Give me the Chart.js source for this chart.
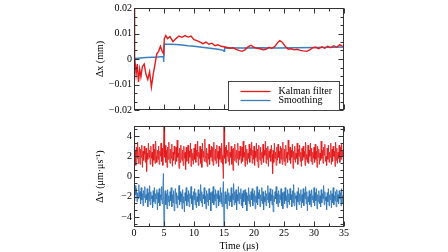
<!DOCTYPE html>
<html>
<head>
<meta charset="utf-8">
<script src="https://cdn.jsdelivr.net/npm/chart.js@4.4.1/dist/chart.umd.min.js"></script>
<style>
  html, body { margin: 0; padding: 0; background: #fff; }
  #wrap { position: relative; width: 448px; height: 252px; }
  #topChart { position: absolute; left: 0; top: 0; }
  #bottomChart { position: absolute; left: 0; top: 118px; }
</style>
</head>
<body>
<div id="wrap">
  <canvas id="topChart" width="448" height="118" style="width:448px;height:118px"></canvas>
  <canvas id="bottomChart" width="448" height="134" style="width:448px;height:134px"></canvas>
</div>
<script>
// ---- data ----
const xTicks = [0, 5, 10, 15, 20, 25, 30, 35];
const dxTicks = [-0.02, -0.01, 0, 0.01, 0.02];
const dvTicks = [-4, -2, 0, 2, 4];

// top panel: position error (mm)
const kalmanTime = [0, 0.05, 0.15, 0.35, 0.55, 0.75, 0.95, 1.15, 1.4, 1.7, 2.0, 2.3, 2.6, 2.9, 3.2, 3.5, 3.8, 4.1, 4.4, 4.7, 4.95,
  5.05, 5.3, 5.6, 6.0, 6.5, 7.0, 7.5, 8.0, 8.5, 9.0, 9.5, 10.0, 10.5, 11.0, 11.5, 12.0, 12.5, 13.0, 13.5, 14.0, 14.5,
  15.0, 15.5, 16.0, 16.5, 17.0, 17.5, 18.0, 18.5, 19.0, 19.5, 20.0, 20.5, 21.0, 21.5, 22.0, 22.5, 23.0, 23.5, 24.0,
  24.3, 24.7, 25.2, 25.7, 26.2, 26.7, 27.2, 27.7, 28.2, 28.8, 29.3, 29.8, 30.3, 30.8, 31.3, 31.8, 32.3, 32.8, 33.3,
  33.8, 34.3, 35.0];
const kalmanDx = [0.021, 0.012, 0.001, -0.006, -0.002, -0.009, -0.004, -0.007, -0.003, -0.002, -0.006, -0.008, -0.005,
  -0.011, -0.006, -0.002, 0.002, 0.003, 0.005, 0.003, 0.002,
  0.008, 0.0092, 0.008, 0.0088, 0.0068, 0.008, 0.009, 0.0085, 0.0092, 0.0086, 0.009, 0.0076, 0.0072, 0.0066, 0.006,
  0.0066, 0.0058, 0.0062, 0.0052, 0.0056, 0.005,
  0.0048, 0.0045, 0.0042, 0.0044, 0.0038, 0.0034, 0.003, 0.0036, 0.0048, 0.0054, 0.0046, 0.0042, 0.004, 0.0036,
  0.0038, 0.0046, 0.0042, 0.005, 0.0066,
  0.0072, 0.0066, 0.005, 0.0038, 0.004, 0.0036, 0.0038, 0.0034, 0.0032, 0.003, 0.0036, 0.0044, 0.0046, 0.004,
  0.0048, 0.0042, 0.005, 0.0044, 0.0052, 0.0046, 0.0056, 0.0046];

const smoothTime = [0, 0.3, 1, 2, 3, 4, 4.9, 4.95, 5.05, 6, 7, 8, 9, 10, 11, 12, 13, 14, 14.9, 15.0, 15.1,
  18, 21, 24, 27, 30, 33, 35];
const smoothDx = [0, 0.0002, 0.0004, 0.0006, 0.0007, 0.0008, 0.001, -0.0012, 0.0058, 0.0058, 0.0057, 0.0055,
  0.0052, 0.005, 0.0047, 0.0044, 0.0041, 0.0038, 0.0034, 0.003, 0.0044,
  0.0043, 0.0044, 0.0043, 0.0044, 0.0045, 0.0046, 0.0047];

// bottom panel: velocity error, sampled every 0.1 us from 0 to 35 (one row = 1 us)
const sampleStep = 0.1;
const kalmanDv = [
  3.2, 1.5, 2.6, 1.1, 2.9, 1.8, 3.4, 1.3, 2.4, 2.9,
  1.2, 2.7, 1.9, 3.1, 0.9, 2.5, 1.6, 3.0, 2.2, 1.4,
  2.8, 0.5, 2.3, 1.7, 3.3, 1.9, 2.6, 1.2, 3.0, 1.8,
  2.4, 1.0, 3.2, 1.6, 2.7, 1.3, 3.5, 2.0, 1.4, 2.6,
  1.7, 3.0, 1.2, 2.5, 2.0, 3.3, 1.5, 2.8, 1.1, 2.4,
  5.6, 1.9, 3.1, 1.4, 2.6, 0.9, 2.9, 1.7, 3.4, 2.1,
  1.3, 2.7, 1.8, 3.2, 1.0, 2.4, 1.6, 3.0, 2.2, 1.2,
  2.9, 1.5, 3.6, 1.9, 2.3, 0.8, 2.8, 1.4, 3.1, 2.0,
  1.6, 2.6, 1.1, 3.0, 1.8, 2.4, 0.7, 2.9, 1.5, 2.2,
  3.1, 1.3, 2.5, 1.9, 3.3, 1.0, 2.7, 1.6, 2.3, 1.2,
  2.8, 1.7, 3.2, 1.4, 2.6, 2.0, 3.5, 1.1, 2.4, 1.8,
  3.0, 1.3, 2.7, 0.9, 3.3, 1.9, 2.5, 1.5, 3.7, 2.1,
  1.4, 2.8, 1.0, 2.3, 1.7, 3.2, 1.2, 2.6, 1.9, 3.0,
  1.5, 2.9, 1.1, 3.4, 2.0, 1.6, 2.7, 1.3, 3.1, 1.8,
  2.5, 1.0, 3.0, 1.7, 2.8, 1.4, 3.3, 2.1, 1.2, -0.2,
  5.6, 1.8, 2.9, 1.3, 3.1, 2.0, 2.6, 1.5, 3.4, 1.1,
  2.4, 1.9, 3.0, 1.2, 2.7, 0.6, 2.8, 1.6, 3.2, 2.2,
  1.4, 2.6, 1.8, 3.3, 1.1, 2.5, 1.7, 3.0, 2.0, 1.3,
  2.9, 1.5, 3.5, 1.9, 2.4, 1.0, 3.1, 1.6, 2.7, 1.2,
  2.3, 1.8, 3.2, 1.4, 2.8, 2.1, 3.4, 1.3, 2.6, 1.7,
  3.0, 1.1, 2.5, 1.9, 3.3, 1.5, 2.7, 0.9, 3.1, 2.0,
  1.6, 2.9, 1.2, 2.4, 1.8, 3.2, 1.4, 2.6, 2.1, 3.5,
  1.3, 2.8, 1.7, 3.0, 1.0, 2.5, 1.9, 2.7, 1.5, 3.1,
  2.2, 0.3, 2.6, 1.4, 3.3, 1.8, 2.4, 1.1, 2.9, 1.6,
  3.2, 1.9, 2.5, 1.3, 3.0, 1.7, 2.8, 1.2, 3.4, 2.0,
  1.5, 2.7, 1.1, 3.1, 1.8, 2.4, 1.4, 3.6, 2.2, 1.6,
  2.9, 1.3, 2.6, 1.9, 3.2, 0.8, 2.5, 1.7, 3.0, 1.4,
  2.3, 1.8, 3.3, 1.2, 2.7, 2.0, 3.1, 1.5, 2.4, 1.0,
  2.8, 1.6, 3.0, 1.9, 2.5, 1.1, 3.4, 1.7, 2.2, 1.4,
  3.1, 1.3, 2.6, 2.0, 3.3, 1.5, 2.8, 1.2, 2.4, 1.8,
  2.9, 1.4, 3.2, 1.7, 2.5, 0.9, 3.0, 1.9, 2.7, 1.2,
  2.3, 1.6, 3.5, 1.8, 2.6, 1.3, 2.9, 2.1, 3.2, 1.5,
  2.0, 1.1, 2.8, 1.7, 3.1, 1.4, 2.4, 1.9, 3.3, 1.2,
  2.7, 1.5, 3.0, 2.0, 2.5, 1.0, 3.4, 1.6, 2.8, 1.3,
  2.4, 1.8, 3.1, 1.4, 2.9, 1.7, 3.2, 2.0, 2.6, 1.5,
  2.2];
const smoothDv = [
  -1.3, -2.4, -0.9, -1.8, -1.2, -2.5, -1.6, -2.2, -0.8, -2.0,
  -1.5, -2.7, -1.1, -2.3, -1.7, -2.9, -1.4, -2.1, -1.0, -2.6,
  -1.8, -2.3, -1.2, -3.0, -1.6, -2.4, -0.9, -2.8, -1.5, -2.2,
  -1.9, -3.1, -1.4, -2.5, -1.1, -2.7, -1.7, -2.2, -1.3, -3.3,
  -1.6, -2.6, -1.2, -2.9, -1.8, -2.3, -1.0, -2.7, -1.5, 0.3,
  -5.6, -2.0, -1.4, -2.8, -1.7, -3.2, -1.3, -2.5, -1.9, -2.9,
  -1.5, -2.4, -1.1, -3.0, -1.8, -2.6, -1.4, -3.4, -2.0, -1.2,
  -2.7, -1.6, -3.1, -1.9, -2.3, -0.9, -2.8, -1.5, -2.5, -1.7,
  -3.2, -1.3, -2.6, -2.0, -3.5, -1.6, -2.4, -1.1, -2.9, -1.8,
  -2.5, -1.4, -3.0, -1.7, -2.2, -1.0, -2.7, -1.9, -3.3, -1.5,
  -2.3, -1.2, -2.8, -1.6, -3.1, -2.0, -2.5, -1.3, -2.9, -1.7,
  -2.4, -0.8, -2.6, -1.5, -3.0, -1.8, -2.2, -1.1, -2.7, -1.9,
  -3.2, -1.4, -2.5, -1.7, -2.9, -1.2, -2.3, -1.6, -3.4, -2.0,
  -1.5, -2.6, -1.0, -2.8, -1.8, -2.4, -1.3, -3.1, -1.7, -2.2,
  -1.4, -2.9, -1.9, -2.5, -1.1, -2.7, -1.6, -3.0, -1.3, -0.5,
  -5.6, -2.1, -1.5, -2.7, -1.8, -3.2, -1.2, -2.4, -1.6, -2.9,
  -1.9, -2.5, -1.1, -3.0, -1.7, -2.3, -0.7, -2.8, -1.5, -2.6,
  -1.3, -3.3, -1.8, -2.4, -1.0, -2.7, -1.6, -2.2, -1.2, -2.9,
  -1.7, -3.1, -1.4, -2.5, -2.0, -1.3, -2.8, -1.6, -3.4, -1.9,
  -2.4, -1.1, -2.7, -1.8, -3.0, -1.5, -2.3, -1.2, -2.9, -1.7,
  -2.5, -1.4, -3.2, -1.9, -2.6, -1.0, -2.8, -1.6, -2.2, -1.3,
  -3.0, -1.8, -2.4, -1.1, -2.7, -1.5, -3.3, -2.0, -2.5, -1.4,
  -2.9, -1.7, -2.3, -0.9, -2.6, -1.6, -3.1, -1.2, -2.4, -1.8,
  -2.8, -1.3, -3.5, -1.9, -2.5, -1.5, -2.2, -1.0, -2.7, -1.7,
  -3.0, -1.4, -2.6, -1.8, -2.3, -1.2, -2.9, -1.6, -3.2, -2.0,
  -1.5, -2.7, -1.1, -2.4, -1.9, -3.1, -1.3, -2.5, -1.7, -2.8,
  -1.2, -2.3, -1.8, -3.0, -1.4, -2.6, -0.8, -2.9, -1.6, -2.2,
  -1.9, -3.3, -1.5, -2.5, -1.1, -2.8, -1.7, -2.4, -1.3, -3.1,
  -1.8, -2.6, -1.2, -2.9, -1.6, -2.2, -1.0, -2.7, -1.5, -3.4,
  -2.0, -2.5, -1.4, -2.8, -1.7, -3.0, -1.3, -2.3, -1.9, -2.6,
  -1.1, -2.9, -1.6, -2.4, -1.2, -3.2, -1.8, -2.5, -1.4, -2.7,
  -1.9, -3.0, -1.3, -2.6, -1.7, -2.2, -0.9, -2.8, -1.5, -2.4,
  -2.0, -3.3, -1.6, -2.5, -1.2, -2.9, -1.8, -2.3, -1.4, -3.1,
  -1.7, -2.6, -1.1, -2.8, -1.9, -2.4, -1.5, -3.0, -1.3, -2.5,
  -1.8, -2.7, -1.4, -2.2, -1.6, -2.9, -1.2, -2.6, -1.9, -2.3,
  -2.0];

// ---- styling ----
const RED = '#e41a1c';
const BLUE = '#3a7ebf';
const FONT = "'Liberation Serif', 'Times New Roman', serif";
const AXIS = '#333';

function toPoints(xs, ys) {
  return ys.map((v, i) => ({ x: xs[i], y: v }));
}
function sampled(ys) {
  return ys.map((v, i) => ({ x: +(i * sampleStep).toFixed(2), y: v }));
}
function minorTicks(min, max, major, parts) {
  const step = major / parts, out = [];
  for (let k = Math.ceil(min / step - 1e-6); k * step <= max + 1e-9; k++) out.push(k * step);
  return out;
}
function fmt(v) {
  const s = v === 0 ? '0' : String(v);
  return s.replace('-', '\u2212');
}

// frame with inward ticks on all four sides
const framePlugin = {
  id: 'frame',
  afterDatasetsDraw(chart, args, opts) {
    const { ctx, chartArea: a } = chart;
    const xs = chart.scales.x, ys = chart.scales.y;
    const L = Math.round(a.left) + 0.5, R = Math.round(a.right) - 0.5;
    const T = Math.round(a.top) + 0.5, B = Math.round(a.bottom) - 0.5;
    ctx.save();
    ctx.strokeStyle = AXIS;
    ctx.lineWidth = 1;
    ctx.strokeRect(L, T, R - L, B - T);
    ctx.beginPath();
    opts.xMinor.forEach(v => {
      const p = Math.round(xs.getPixelForValue(v)) + 0.5;
      const len = opts.xMajor.some(m => Math.abs(m - v) < 1e-6) ? 5 : 3;
      ctx.moveTo(p, B); ctx.lineTo(p, B - len);
      ctx.moveTo(p, T); ctx.lineTo(p, T + len);
    });
    opts.yMinor.forEach(v => {
      const p = Math.round(ys.getPixelForValue(v)) + 0.5;
      const len = opts.yMajor.some(m => Math.abs(m - v) < 1e-9) ? 5 : 3;
      ctx.moveTo(L, p); ctx.lineTo(L + len, p);
      ctx.moveTo(R, p); ctx.lineTo(R - len, p);
    });
    ctx.stroke();
    ctx.restore();
  }
};

// boxed legend inside the top panel
const boxLegend = {
  id: 'boxLegend',
  afterDraw(chart, args, opts) {
    if (!opts.show) return;
    const { ctx, chartArea: a } = chart;
    const bx = Math.round(a.left) + 94.5, by = Math.round(a.top) + 73.5;
    ctx.save();
    ctx.fillStyle = '#fff';
    ctx.fillRect(bx, by, 111, 29);
    ctx.strokeStyle = '#444';
    ctx.lineWidth = 1;
    ctx.strokeRect(bx, by, 111, 29);
    ctx.font = '10px ' + FONT;
    ctx.textBaseline = 'middle';
    chart.data.datasets.forEach((ds, i) => {
      const y = by + 10 + i * 9;
      ctx.strokeStyle = ds.borderColor;
      ctx.lineWidth = 1.3;
      ctx.beginPath();
      ctx.moveTo(bx + 12, y); ctx.lineTo(bx + 42, y);
      ctx.stroke();
      ctx.fillStyle = '#000';
      ctx.fillText(ds.label, bx + 50, y);
    });
    ctx.restore();
  }
};

function yAxis(min, max, ticks, title) {
  return {
    type: 'linear', min: min, max: max,
    afterFit: s => { s.width = 44; },
    afterBuildTicks: s => { s.ticks = ticks.map(v => ({ value: v })); },
    grid: { display: false, drawTicks: false },
    border: { display: false },
    ticks: { padding: 2, color: '#000', font: { family: FONT, size: 10 }, callback: v => fmt(v) },
    title: { display: true, text: title, color: '#000', font: { family: FONT, size: 10 }, padding: { top: 4, bottom: 0 } }
  };
}

Chart.defaults.font.family = FONT;

new Chart(document.getElementById('topChart'), {
  type: 'line',
  data: {
    datasets: [
      { label: 'Kalman filter', data: toPoints(kalmanTime, kalmanDx), borderColor: RED, borderWidth: 1.4, pointRadius: 0, tension: 0, clip: 0 },
      { label: 'Smoothing', data: toPoints(smoothTime, smoothDx), borderColor: BLUE, borderWidth: 1.4, pointRadius: 0, tension: 0, clip: 0 }
    ]
  },
  options: {
    responsive: false,
    animation: false,
    layout: { padding: { left: 90, right: 104, top: 4, bottom: 3 } },
    plugins: {
      legend: { display: false },
      tooltip: { enabled: false },
      frame: { xMajor: xTicks, xMinor: minorTicks(0, 35, 5, 2), yMajor: dxTicks, yMinor: minorTicks(-0.02, 0.02, 0.01, 3) },
      boxLegend: { show: true }
    },
    scales: {
      x: { type: 'linear', min: 0, max: 35, display: false },
      y: yAxis(-0.02, 0.02, dxTicks, '\u0394x (mm)')
    }
  },
  plugins: [framePlugin, boxLegend]
});

new Chart(document.getElementById('bottomChart'), {
  type: 'line',
  data: {
    datasets: [
      { label: 'Kalman filter', data: sampled(kalmanDv), borderColor: 'rgba(228,26,28,0.85)', borderWidth: 1, pointRadius: 0, tension: 0, clip: 0 },
      { label: 'Smoothing', data: sampled(smoothDv), borderColor: 'rgba(46,117,182,0.85)', borderWidth: 1, pointRadius: 0, tension: 0, clip: 0 }
    ]
  },
  options: {
    responsive: false,
    animation: false,
    layout: { padding: { left: 90, right: 104, top: 1, bottom: 0 } },
    plugins: {
      legend: { display: false },
      tooltip: { enabled: false },
      frame: { xMajor: xTicks, xMinor: minorTicks(0, 35, 5, 2), yMajor: dvTicks, yMinor: minorTicks(-5, 5, 2, 3) },
      boxLegend: { show: false }
    },
    scales: {
      x: {
        type: 'linear', min: 0, max: 35,
        afterFit: s => { s.height = 25; },
        afterBuildTicks: s => { s.ticks = xTicks.map(v => ({ value: v })); },
        grid: { display: false, drawTicks: false },
        border: { display: false },
        ticks: { padding: 0, color: '#000', maxRotation: 0, autoSkip: false, font: { family: FONT, size: 10 } },
        title: { display: true, text: 'Time (\u03bcs)', color: '#000', font: { family: FONT, size: 10 }, padding: { top: 4, bottom: 0 } }
      },
      y: yAxis(-5, 5, dvTicks, '\u0394v (\u03bcm\u00b7\u03bcs\u207b\u00b9)')
    }
  },
  plugins: [framePlugin, boxLegend]
});
</script>
</body>
</html>
